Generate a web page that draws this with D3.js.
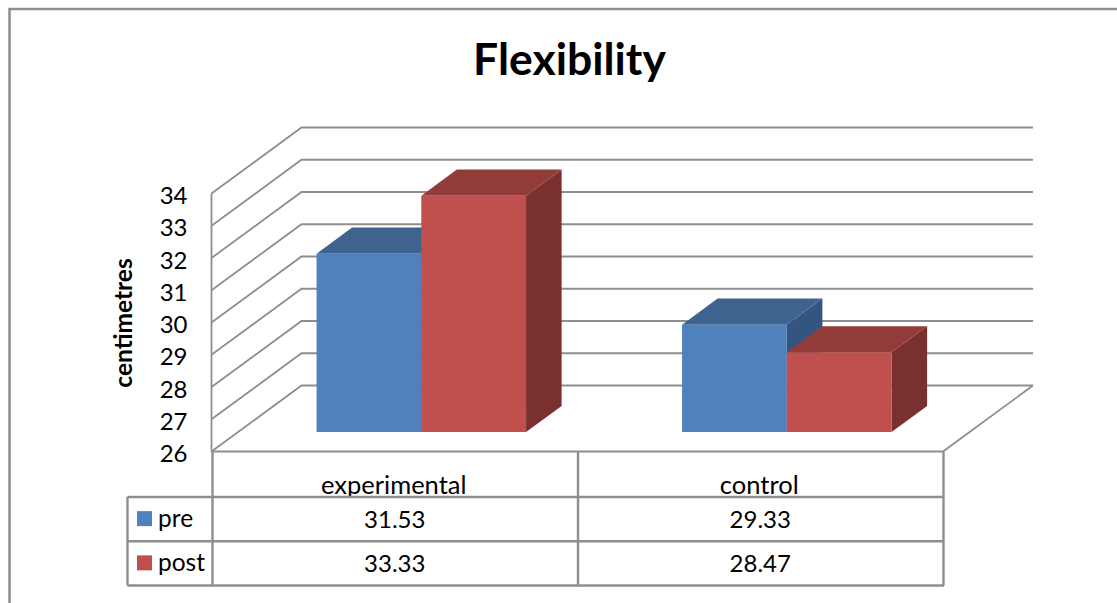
<!DOCTYPE html>
<html>
<head>
<meta charset="utf-8">
<script src="https://cdn.jsdelivr.net/npm/d3@7"></script>
<style>
  html, body { margin: 0; padding: 0; background: #fff; }
  svg { display: block; }
  text { font-family: Lato, "Open Sans", sans-serif; fill: #000; }
</style>
</head>
<body>
<svg id="chart" width="1117" height="603"></svg>
<script>
// Values
const categories = ['experimental', 'control'];
const seriesNames = ['pre', 'post'];
const preValues = [31.53, 29.33];
const postValues = [33.33, 28.47];
const yTicks = [26, 27, 28, 29, 30, 31, 32, 33, 34];

const frontColors = { pre: '#4f81bd', post: '#c0504d' };
const topColors = { pre: '#3e638f', post: '#923c3a' };
const sideColors = { pre: '#34557f', post: '#7a302f' };
const lineColor = '#8e8e8e';

const svg = d3.select('#chart');

// Scales
const y = d3.scaleLinear().domain([26, 34]).range([451.5, 193.5]);
const x = d3.scaleBand().domain(categories).range([212, 943]);
const xSeries = d3.scaleBand().domain(seriesNames).range([78, 287.5]);
// depth: 0 is the front of the floor, 1 is the back wall
const depthX = d3.scaleLinear().domain([0, 1]).range([0, 90]);
const depthY = d3.scaleLinear().domain([0, 1]).range([0, -66]);
const barFront = 0.295;
const barBack = 0.69;

function pt(px, value, depth) {
  return [px + depthX(depth), y(value) + depthY(depth)];
}
function poly(points) {
  return points.map((p) => p.join(',')).join(' ');
}

// Outer frame (only top and left are inside the picture)
svg.append('path')
  .attr('d', 'M9.5,603V9H1117')
  .attr('fill', 'none')
  .attr('stroke', lineColor)
  .attr('stroke-width', 2.5);

// Title
svg.append('text')
  .attr('x', 569.5)
  .attr('y', 75)
  .attr('text-anchor', 'middle')
  .attr('font-size', 44.5)
  .attr('font-weight', 700)
  .text('Flexibility');

// Gridlines on the side wall and back wall
const xLeft = x.range()[0];
const xRight = x.range()[1];
const grid = svg.append('g')
  .attr('fill', 'none')
  .attr('stroke', lineColor)
  .attr('stroke-width', 1.8);

yTicks.forEach((t) => {
  const a = pt(xLeft - 0.5, t, 0);
  const b = pt(xLeft - 0.5, t, 1);
  const c = pt(xRight, t, 1);
  grid.append('polyline').attr('points', poly([a, b, c]));
});

// Floor front edge and right edge, y axis line
grid.append('polyline').attr('points', poly([
  pt(xLeft - 0.5, 26, 0), pt(xRight, 26, 0), pt(xRight, 26, 1)
]));
grid.append('line')
  .attr('x1', xLeft - 0.5).attr('x2', xLeft - 0.5)
  .attr('y1', y(34)).attr('y2', y(26));

// Y axis labels
const yAxis = d3.axisLeft(y).tickValues(yTicks).tickSize(0).tickPadding(0);
const yAxisG = svg.append('g')
  .attr('transform', 'translate(187.5,0)')
  .call(yAxis);
yAxisG.select('.domain').remove();
yAxisG.selectAll('text')
  .attr('font-size', 24)
  .style('font-family', 'Lato, "Open Sans", sans-serif')
  .attr('dy', '0.42em');

// Y axis title
svg.append('text')
  .attr('transform', 'translate(132,323) rotate(-90)')
  .attr('text-anchor', 'middle')
  .attr('font-size', 24.5)
  .attr('font-weight', 700)
  .text('centimetres');

// 3D bars
const seriesValues = { pre: preValues, post: postValues };
categories.forEach((cat, i) => {
  seriesNames.forEach((name) => {
    const v = seriesValues[name][i];
    const x0 = x(cat) + xSeries(name);
    const x1 = x0 + xSeries.bandwidth();
    const g = svg.append('g');
    g.append('polygon')
      .attr('fill', sideColors[name])
      .attr('points', poly([pt(x1, 26, barFront), pt(x1, 26, barBack), pt(x1, v, barBack), pt(x1, v, barFront)]));
    g.append('polygon')
      .attr('fill', topColors[name])
      .attr('points', poly([pt(x0, v, barFront), pt(x1, v, barFront), pt(x1, v, barBack), pt(x0, v, barBack)]));
    g.append('polygon')
      .attr('fill', frontColors[name])
      .attr('points', poly([pt(x0, 26, barFront), pt(x1, 26, barFront), pt(x1, v, barFront), pt(x0, v, barFront)]));
  });
});

// Category labels, the table's top edge cuts off the descender
categories.forEach((cat) => {
  svg.append('text')
    .attr('x', x(cat) + x.bandwidth() / 2 - 1)
    .attr('y', 494)
    .attr('text-anchor', 'middle')
    .attr('font-size', 25.5)
    .text(cat);
});

// Data table
const rowY = d3.scaleBand().domain(seriesNames).range([497, 585.5]);
const tableLeft = 127.5;

svg.append('rect')
  .attr('x', tableLeft).attr('y', rowY.range()[0])
  .attr('width', xRight - tableLeft).attr('height', rowY.range()[1] - rowY.range()[0])
  .attr('fill', '#fff');

seriesNames.forEach((name) => {
  const mid = rowY(name) + rowY.bandwidth() / 2;
  svg.append('rect')
    .attr('x', 137).attr('y', mid - 8)
    .attr('width', 15).attr('height', 15)
    .attr('fill', frontColors[name]);
  svg.append('text')
    .attr('x', 158).attr('y', mid + 8)
    .attr('font-size', 24.5)
    .text(name);
  categories.forEach((cat, i) => {
    svg.append('text')
      .attr('x', x(cat) + x.bandwidth() / 2)
      .attr('y', mid + 9)
      .attr('text-anchor', 'middle')
      .attr('font-size', 24)
      .text(seriesValues[name][i]);
  });
});

const tableLines = svg.append('g').attr('stroke', lineColor).attr('stroke-width', 2.4).attr('fill', 'none');
[rowY.range()[0], rowY(seriesNames[1]), rowY.range()[1]].forEach((ly) => {
  tableLines.append('line').attr('x1', tableLeft).attr('x2', xRight + 1).attr('y1', ly).attr('y2', ly);
});
tableLines.append('line').attr('x1', tableLeft).attr('x2', tableLeft).attr('y1', 497).attr('y2', 585.5);
[xLeft + 0.5, x(categories[1]) + 0.5, xRight + 0.5].forEach((lx) => {
  tableLines.append('line').attr('x1', lx).attr('x2', lx).attr('y1', y(26)).attr('y2', 585.5);
});
</script>
</body>
</html>
